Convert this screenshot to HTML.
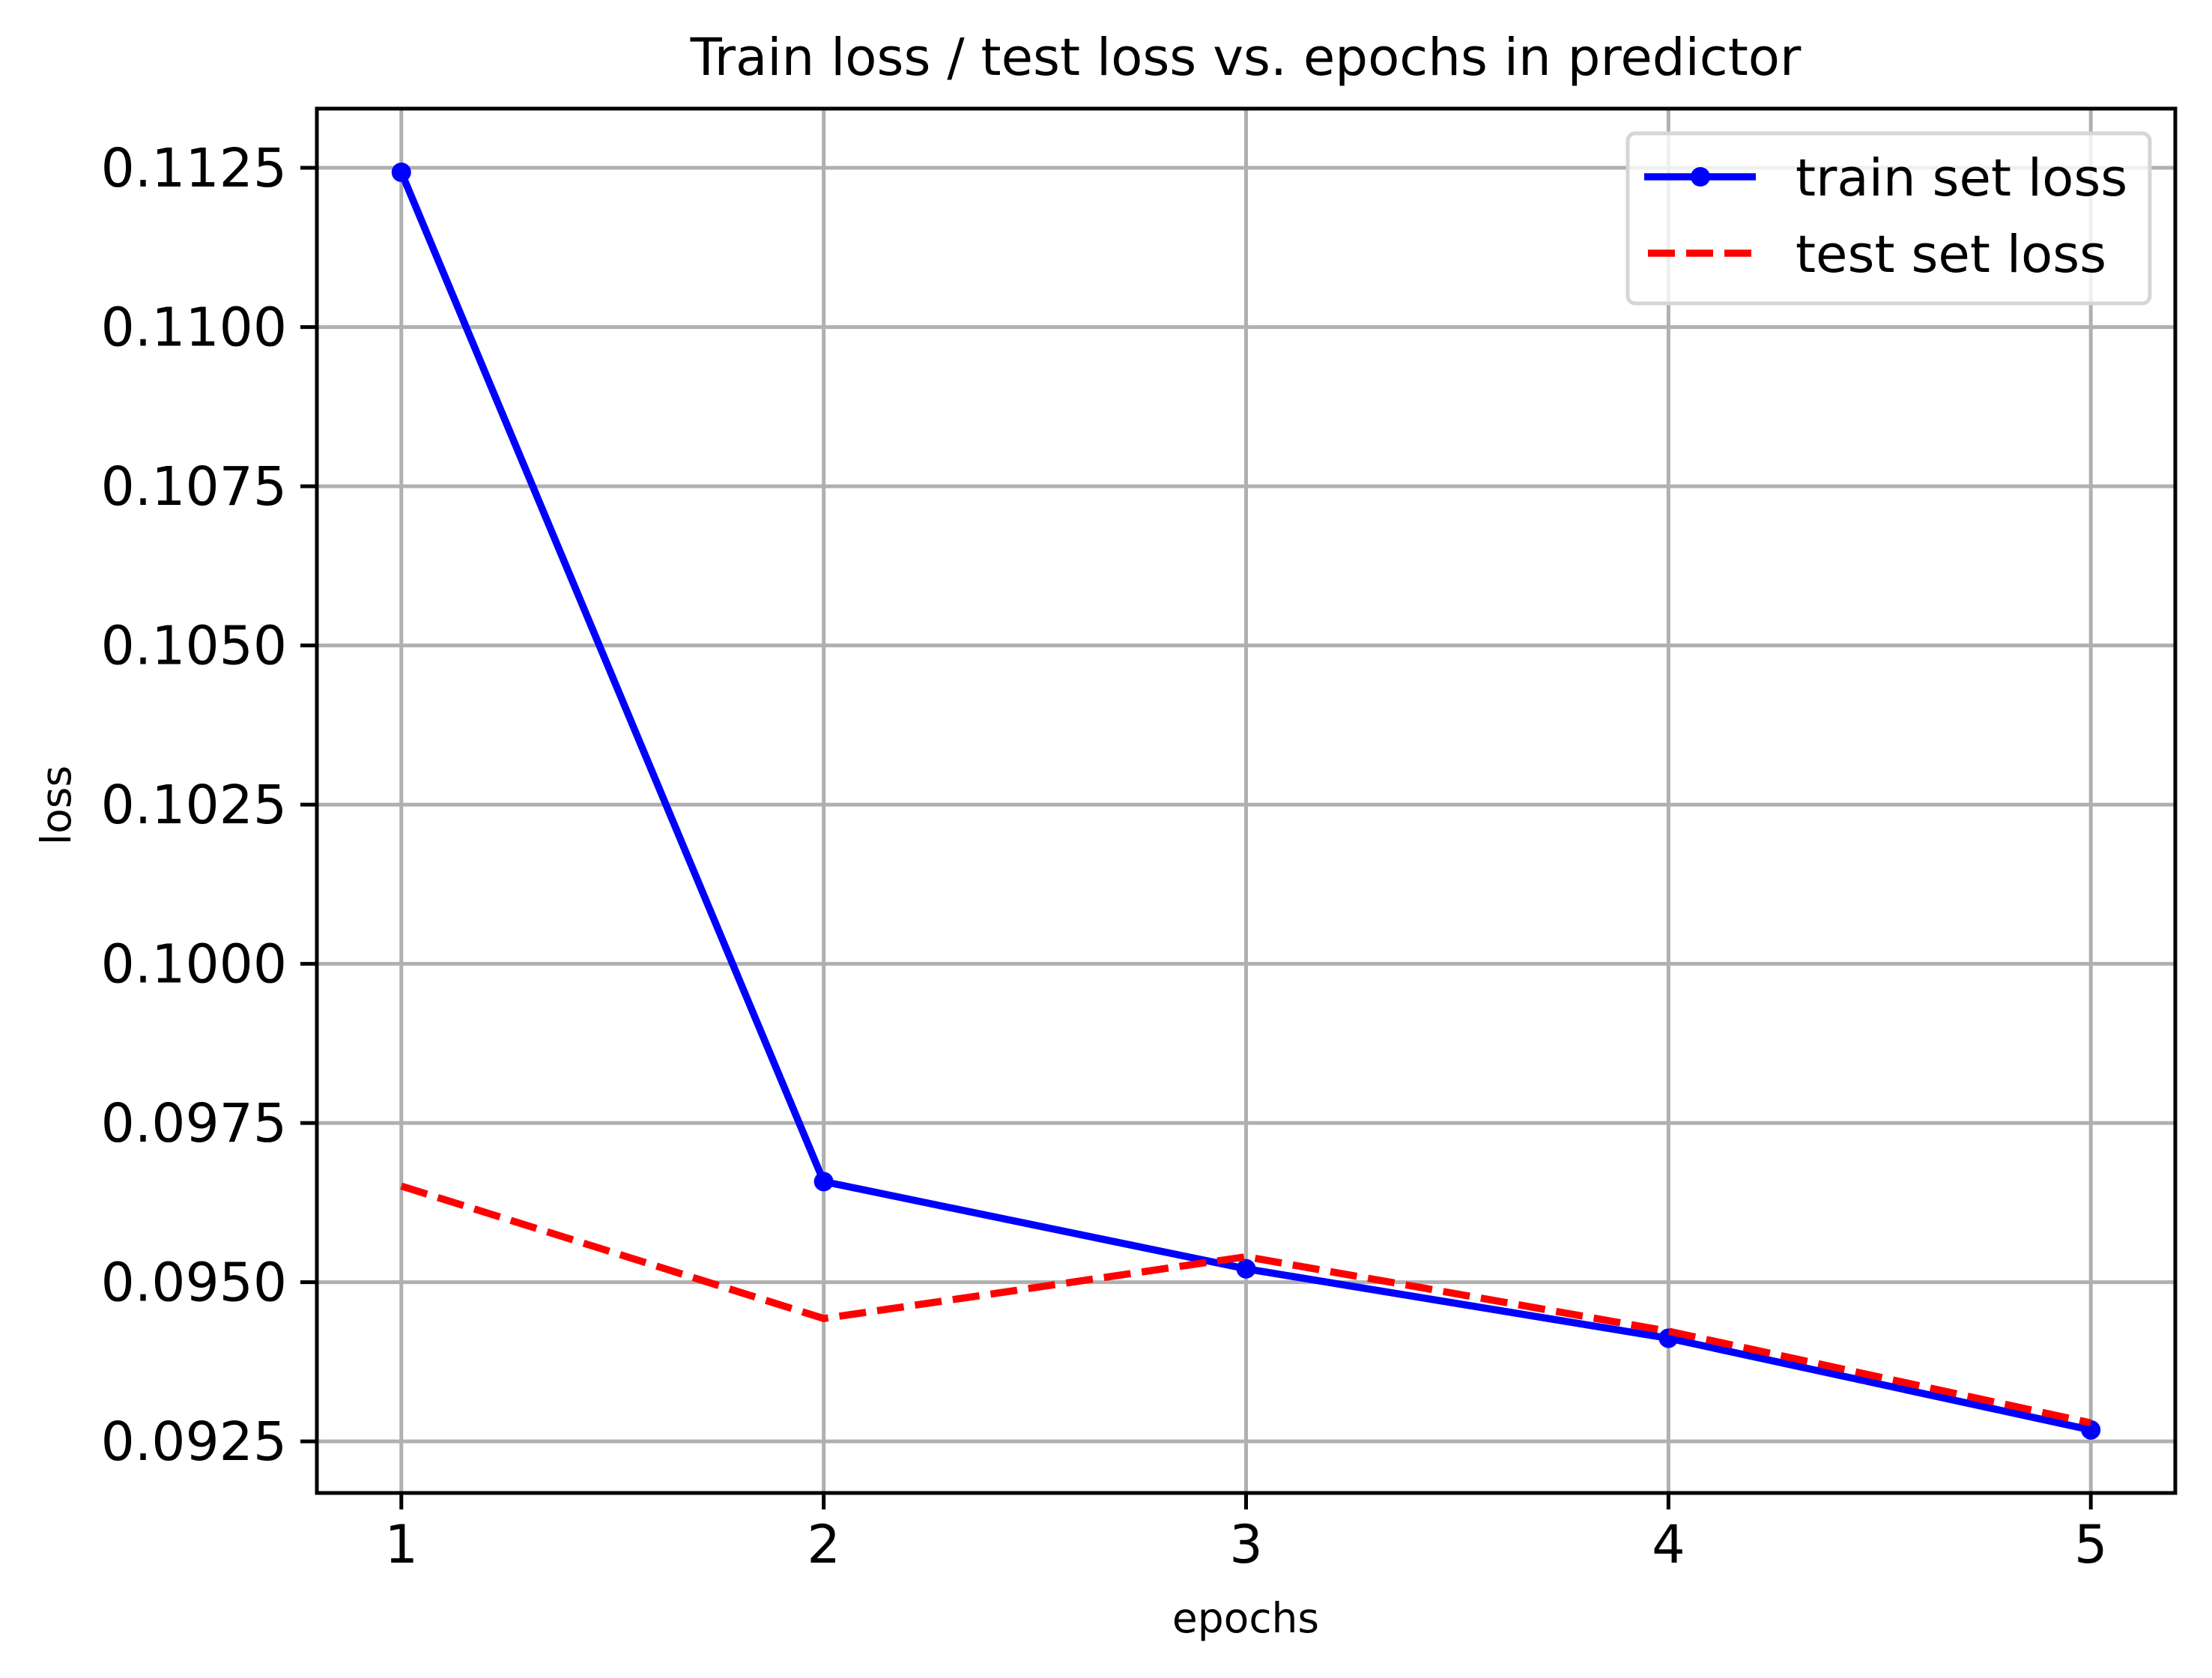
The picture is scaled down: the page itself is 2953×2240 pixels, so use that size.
<!DOCTYPE html>
<html><head><meta charset="utf-8"><style>
html,body{margin:0;padding:0;background:#fff;}
svg{display:block;font-family:"DejaVu Sans","Liberation Sans",sans-serif;}
</style></head><body>
<svg id="chart" width="2953" height="2240" viewBox="0 0 2953 2240" xmlns="http://www.w3.org/2000/svg">
<rect width="2953" height="2240" fill="#fff"/>
<g id="grid"></g>
<g id="series"></g>
<rect x="423" y="145" width="2481" height="1848" fill="none" stroke="#000" stroke-width="5"/>
<g id="ticks"></g>
<text x="1663" y="100" font-size="69" text-anchor="middle">Train loss / test loss vs. epochs in predictor</text>
<text x="1663" y="2179" font-size="55" text-anchor="middle">epochs</text>
<text x="0" y="0" font-size="55" text-anchor="middle" transform="translate(94,1075) rotate(-90)">loss</text>
<g>
<rect x="2173" y="178" width="697" height="227" rx="10" fill="#fff" fill-opacity="0.8" stroke="#d6d6d6" stroke-width="5"/>
<line x1="2195" y1="236" x2="2344" y2="236" stroke="#0000ff" stroke-width="9.6"/>
<circle cx="2270" cy="236" r="13" fill="#0000ff"/>
<text x="2397" y="261" font-size="69">train set loss</text>
<line x1="2200" y1="338" x2="2344" y2="338" stroke="#ff0000" stroke-width="9.6" stroke-dasharray="36,15"/>
<text x="2397" y="363" font-size="69">test set loss</text>
</g>
</svg>
<script>
const epochs = [1, 2, 3, 4, 5];
const trainLoss = [0.11243, 0.09658, 0.09521, 0.09412, 0.09268];
const testLoss = [0.09651, 0.09443, 0.09540, 0.09423, 0.09279];
const yTicks = [0.0925, 0.0950, 0.0975, 0.1000, 0.1025, 0.1050, 0.1075, 0.1100, 0.1125];
const yTickLabels = ["0.0925","0.0950","0.0975","0.1000","0.1025","0.1050","0.1075","0.1100","0.1125"];
const xTickLabels = ["1","2","3","4","5"];

const NS = "http://www.w3.org/2000/svg";
const L = 423, R = 2904, T = 145, B = 1993;
const xMin = 0.8, xMax = 5.2, yMin = 0.09169, yMax = 0.11343;
function xs(v){ return L + (v - xMin) / (xMax - xMin) * (R - L); }
function ys(v){ return B - (v - yMin) / (yMax - yMin) * (B - T); }
function mk(tag, attrs, parent){ const e = document.createElementNS(NS, tag); for (const k in attrs) e.setAttribute(k, attrs[k]); parent.appendChild(e); return e; }

const grid = document.getElementById('grid');
const ticks = document.getElementById('ticks');
const series = document.getElementById('series');

epochs.forEach((v, i) => {
  const x = xs(v);
  const g = mk('line', {x1:x, y1:T, x2:x, y2:B, stroke:'#b0b0b0', 'stroke-width':5}, grid);
  
  
  const t = mk('line', {x1:x, y1:B, x2:x, y2:B+22, stroke:'#000', 'stroke-width':5}, ticks);
  
  
  const lb = mk('text', {x:x, y:B+93, 'font-size':70, 'text-anchor':'middle'}, ticks);
  lb.textContent = xTickLabels[i];
  
  
});
yTicks.forEach((v, i) => {
  const y = ys(v);
  const g = mk('line', {x1:L, y1:y, x2:R, y2:y, stroke:'#b0b0b0', 'stroke-width':5}, grid);
  
  
  const t = mk('line', {x1:L-22, y1:y, x2:L, y2:y, stroke:'#000', 'stroke-width':5}, ticks);
  
  
  const lb = mk('text', {x:L-40, y:y+25, 'font-size':71, 'text-anchor':'end'}, ticks);
  lb.textContent = yTickLabels[i];
  
  
});

const trainPts = epochs.map((e, i) => xs(e) + ',' + ys(trainLoss[i])).join(' ');
const testPts = epochs.map((e, i) => xs(e) + ',' + ys(testLoss[i])).join(' ');
const tl = mk('polyline', {points:trainPts, fill:'none', stroke:'#0000ff', 'stroke-width':9.6, 'stroke-linejoin':'round'}, series);


epochs.forEach((e, i) => {
  const c = mk('circle', {cx:xs(e), cy:ys(trainLoss[i]), r:13, fill:'#0000ff'}, series);
  
  
});
const sl = mk('polyline', {points:testPts, fill:'none', stroke:'#ff0000', 'stroke-width':9.6, 'stroke-dasharray':'36,15'}, series);


</script>
</body></html>
